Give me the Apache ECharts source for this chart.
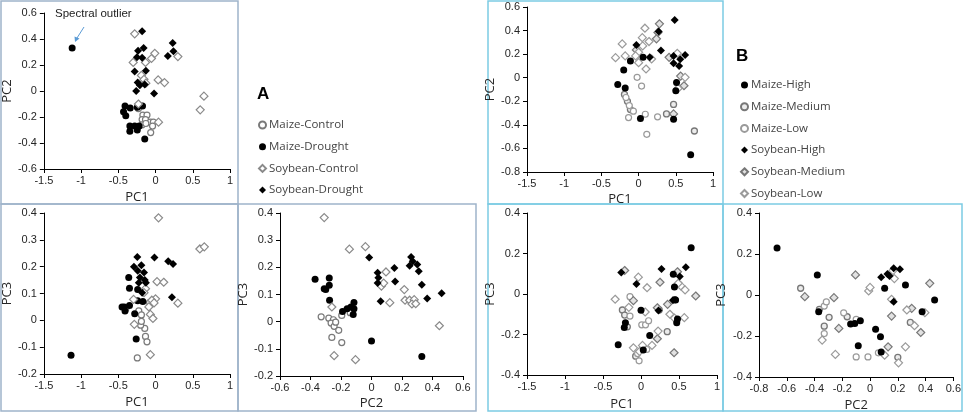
<!DOCTYPE html>
<html>
<head>
<meta charset="utf-8">
<script src="https://cdn.jsdelivr.net/npm/echarts@6/dist/echarts.min.js"></script>
<style>
  html, body { margin: 0; padding: 0; background: #fff; }
  #chart { width: 964px; height: 414px; }
</style>
</head>
<body>
<div id="chart"></div>
<script>
'use strict';

// ---- Panel A : PC1 vs PC2 ----
var aPc12MaizeControl = [[-0.23,-0.135],[-0.17,-0.185],[-0.115,-0.185],[-0.18,-0.22],[-0.135,-0.22],[-0.07,-0.24],[-0.03,-0.24],[-0.04,-0.27],[-0.065,-0.32],[-0.18,-0.26],[-0.13,-0.25]];
var aPc12MaizeDrought = [[-1.12,0.33],[-0.43,-0.16],[-0.41,-0.115],[-0.40,-0.19],[-0.34,-0.13],[-0.245,-0.125],[-0.175,-0.115],[-0.345,-0.27],[-0.345,-0.31],[-0.28,-0.27],[-0.245,-0.30],[-0.22,-0.27],[-0.145,-0.37]];
var aPc12SoyControl = [[-0.28,0.44],[-0.30,0.22],[-0.135,0.22],[-0.055,0.25],[-0.01,0.29],[0.30,0.265],[-0.19,0.12],[-0.155,0.09],[-0.13,0.06],[0.035,0.085],[0.12,0.065],[0.60,-0.145],[0.65,-0.04],[-0.23,-0.10],[0.04,-0.24]];
var aPc12SoyDrought = [[-0.18,0.46],[-0.235,0.31],[-0.16,0.33],[-0.25,0.26],[-0.18,0.255],[-0.28,0.15],[-0.13,0.155],[-0.24,0.065],[-0.21,0.045],[-0.145,0.05],[-0.26,0.0],[-0.02,-0.02],[0.23,0.37],[0.24,0.305],[0.165,0.27]];

// ---- Panel A : PC1 vs PC3 ----
var aPc13MaizeControl = [[-0.245,-0.14],[-0.135,-0.06],[-0.115,-0.08],[-0.145,-0.03],[-0.2,-0.018],[-0.19,-0.004],[-0.225,0.035],[-0.19,0.02],[-0.40,0.042],[-0.08,0.066]];
var aPc13MaizeDrought = [[-1.135,-0.13],[-0.36,0.16],[-0.35,0.12],[-0.45,0.05],[-0.42,0.05],[-0.41,0.035],[-0.35,0.055],[-0.28,0.025],[-0.26,-0.07],[-0.24,0.073],[-0.17,0.07],[-0.24,0.115]];
var aPc13SoyControl = [[0.04,0.382],[0.595,0.266],[0.655,0.274],[0.02,0.144],[0.11,0.142],[0.30,0.064],[0.0,0.08],[-0.05,0.075],[-0.02,0.065],[-0.295,0.078],[-0.09,0.05],[-0.07,0.022],[-0.035,0.007],[-0.135,0.118],[-0.155,0.103],[-0.285,-0.015],[-0.07,-0.128]];
var aPc13SoyDrought = [[-0.245,0.236],[-0.29,0.2],[-0.19,0.205],[-0.24,0.185],[-0.155,0.178],[-0.21,0.16],[-0.145,0.15],[-0.13,0.14],[-0.015,0.234],[0.17,0.22],[0.235,0.21],[0.22,0.086],[-0.225,0.14],[-0.18,0.103]];

// ---- Panel A : PC2 vs PC3 ----
var aPc23MaizeControl = [[-0.33,0.018],[-0.28,0.013],[-0.25,0.007],[-0.265,-0.005],[-0.245,-0.017],[-0.235,-0.002],[-0.215,-0.032],[-0.26,-0.058],[-0.195,-0.077],[-0.195,0.023],[-0.14,0.033]];
var aPc23MaizeDrought = [[-0.37,0.156],[-0.31,0.121],[-0.30,0.118],[-0.277,0.161],[-0.277,0.134],[-0.275,0.079],[-0.19,0.037],[-0.16,0.048],[-0.135,0.054],[-0.115,0.071],[-0.115,0.048],[-0.12,0.026],[0.0,-0.071],[0.33,-0.128]];
var aPc23SoyControl = [[-0.31,0.383],[-0.145,0.267],[-0.04,0.276],[0.095,0.183],[0.065,0.131],[0.08,0.142],[0.12,0.07],[0.215,0.118],[0.22,0.079],[0.25,0.079],[0.28,0.081],[0.265,0.065],[0.29,0.066],[0.445,-0.015],[-0.26,0.054],[-0.245,-0.125],[-0.105,-0.14]];
var aPc23SoyDrought = [[-0.015,0.236],[0.04,0.18],[0.045,0.162],[0.04,0.142],[0.06,0.075],[0.15,0.198],[0.155,0.148],[0.26,0.238],[0.27,0.222],[0.25,0.206],[0.30,0.21],[0.31,0.186],[0.33,0.136],[0.365,0.085],[0.46,0.105]];

// ---- Panel B : PC1 vs PC2 ----
var bPc12MaizeHigh = [[-0.28,-0.057],[-0.20,0.065],[-0.18,-0.088],[0.025,-0.347],[0.47,-0.352],[0.51,-0.04],[0.50,-0.11],[0.70,-0.653],[-0.11,0.142],[0.06,0.173]];
var bPc12MaizeMed = [[-0.19,-0.142],[-0.15,-0.2],[-0.11,-0.27],[0.375,-0.307],[0.75,-0.452],[0.47,-0.227]];
var bPc12MaizeLow = [[-0.17,-0.168],[-0.125,-0.236],[-0.07,-0.284],[-0.135,-0.338],[0.09,-0.31],[0.11,-0.48],[0.255,-0.332],[-0.02,0.003],[0.04,-0.071]];
var bPc12SoyHigh = [[0.485,0.489],[-0.03,0.278],[0.15,0.173],[0.27,0.392],[0.30,0.23],[0.47,0.185],[0.625,0.193],[0.47,0.122],[0.56,0.156],[0.545,0.1]];
var bPc12SoyMed = [[0.28,0.457],[0.26,0.384],[0.24,0.33],[-0.03,0.236],[0.61,-0.068],[0.565,0.014],[0.41,0.173],[0.47,-0.307]];
var bPc12SoyLow = [[0.085,0.42],[0.05,0.34],[-0.22,0.287],[-0.31,0.17],[-0.18,0.185],[0.0,0.216],[-0.04,0.185],[0.0,0.128],[0.055,0.27],[0.14,0.307],[0.175,0.159],[0.10,0.074],[0.52,0.207],[0.625,0.003],[0.53,-0.091]];

// ---- Panel B : PC1 vs PC3 ----
var bPc13MaizeHigh = [[0.66,0.228],[-0.3,-0.25],[-0.22,-0.165],[-0.205,-0.142],[0.0,-0.08],[0.115,-0.205],[0.03,-0.277],[0.425,0.097],[0.44,0.035],[0.445,-0.028],[0.48,-0.124],[0.47,-0.142],[0.455,-0.03]];
var bPc13MaizeMed = [[-0.245,-0.079],[-0.215,-0.104],[-0.18,-0.162],[0.24,-0.079],[0.345,-0.186],[-0.07,-0.307]];
var bPc13MaizeLow = [[-0.145,-0.013],[-0.145,-0.109],[0.01,-0.152],[0.06,-0.152],[0.1,-0.132],[-0.045,-0.294],[-0.025,-0.33],[0.075,-0.274]];
var bPc13SoyHigh = [[-0.26,0.106],[-0.06,0.05],[0.27,0.124],[0.51,0.087],[0.59,0.132],[0.23,-0.081],[0.42,-0.031]];
var bPc13SoyMed = [[-0.215,0.116],[0.25,0.058],[0.48,0.11],[0.72,-0.01],[0.35,-0.051],[0.215,-0.068],[0.215,-0.221],[0.435,-0.29],[-0.1,-0.033]];
var bPc13SoyLow = [[-0.035,0.083],[0.08,0.031],[0.525,0.04],[0.58,0.02],[0.49,0.053],[-0.34,-0.026],[-0.16,-0.066],[0.055,-0.089],[0.38,-0.1],[0.44,-0.119],[0.57,-0.117],[0.225,-0.183],[0.145,-0.254],[0.02,-0.254],[-0.1,-0.266],[-0.02,-0.284]];

// ---- Panel B : PC2 vs PC3 ----
var bPc23MaizeHigh = [[-0.67,0.229],[-0.38,0.098],[-0.37,-0.082],[-0.14,-0.142],[-0.11,-0.139],[-0.07,-0.126],[0.04,-0.167],[-0.085,-0.248],[0.075,-0.204],[0.08,-0.278],[0.375,-0.082],[0.465,-0.024],[0.255,0.049],[0.105,0.033]];
var bPc23MaizeMed = [[-0.5,0.033],[-0.365,-0.07],[-0.295,-0.109],[-0.33,-0.152],[-0.165,-0.106],[0.2,-0.304],[0.29,-0.134]];
var bPc23MaizeLow = [[-0.33,-0.054],[-0.315,-0.034],[-0.33,-0.188],[-0.19,-0.087],[-0.1,-0.119],[-0.1,-0.302],[-0.015,-0.302],[0.06,-0.282]];
var bPc23SoyHigh = [[0.08,0.087],[0.125,0.103],[0.14,0.093],[0.17,0.131],[0.215,0.126],[0.17,-0.033]];
var bPc23SoyMed = [[-0.47,-0.008],[-0.26,-0.013],[-0.225,-0.163],[-0.105,0.098],[0.13,-0.253],[0.155,-0.103],[0.3,-0.065],[0.365,-0.183],[0.43,0.057]];
var bPc23SoyLow = [[-0.345,-0.22],[-0.25,-0.29],[-0.01,0.02],[0.0,0.037],[0.105,-0.294],[0.205,-0.331],[0.255,-0.253],[0.155,-0.021],[0.165,0.119],[0.175,0.08],[0.265,-0.073],[0.32,-0.15],[0.395,-0.086]];

var TEXT = '#262626';
var FRAME_A = '#9fb4ca';
var FRAME_B = '#7ccbe3';

// marker looks
var looks = {
  'Maize-Control':   { symbol: 'circle',  size: 6, color: '#fff',    border: '#7a7a7a', bw: 1.2 },
  'Maize-Drought':   { symbol: 'circle',  size: 7, color: '#000',    border: '#000',    bw: 0 },
  'Soybean-Control': { symbol: 'diamond', size: 8, color: '#fff',    border: '#8a8a8a', bw: 1.2 },
  'Soybean-Drought': { symbol: 'diamond', size: 8, color: '#000',    border: '#000',    bw: 0 },
  'Maize-High':      { symbol: 'circle',  size: 7, color: '#000',    border: '#000',    bw: 0 },
  'Maize-Medium':    { symbol: 'circle',  size: 6, color: '#ececec', border: '#777',    bw: 1.3 },
  'Maize-Low':       { symbol: 'circle',  size: 6, color: '#fff',    border: '#9a9a9a', bw: 1.2 },
  'Soybean-High':    { symbol: 'diamond', size: 8, color: '#000',    border: '#000',    bw: 0 },
  'Soybean-Medium':  { symbol: 'diamond', size: 8, color: '#e2e2e2', border: '#777',    bw: 1.2 },
  'Soybean-Low':     { symbol: 'diamond', size: 8, color: '#fff',    border: '#9a9a9a', bw: 1.2 }
};

var grids = [], xAxes = [], yAxes = [], series = [];

function axis(name, min, max, step, gap, vertical) {
  return {
    type: 'value', min: min, max: max, interval: step,
    name: name, nameLocation: 'middle', nameGap: gap,
    nameTextStyle: { color: TEXT, fontSize: 13, fontFamily: 'Open Sans' },
    axisLine: { onZero: false, lineStyle: { color: '#000', width: 1 } },
    axisTick: { show: true, length: 4, lineStyle: { color: '#000' } },
    axisLabel: { color: TEXT, fontSize: 11, fontFamily: 'Liberation Sans', margin: vertical ? 7 : 6 },
    splitLine: { show: false }
  };
}

function panel(box, xa, ya, sets) {
  var idx = grids.length;
  grids.push({ left: box[0], top: box[1], width: box[2], height: box[3] });
  xAxes.push(Object.assign(axis(xa[0], xa[1], xa[2], xa[3], xa[4], false), { gridIndex: idx }));
  yAxes.push(Object.assign(axis(ya[0], ya[1], ya[2], ya[3], ya[4], true), { gridIndex: idx }));
  sets.forEach(function (s) {
    var lk = looks[s[0]];
    series.push({
      type: 'scatter', name: s[0], xAxisIndex: idx, yAxisIndex: idx,
      symbol: lk.symbol, symbolSize: lk.size,
      itemStyle: { color: lk.color, borderColor: lk.border, borderWidth: lk.bw, opacity: 1 },
      emphasis: { disabled: true },
      data: s[1]
    });
  });
}

// Panel A
panel([40, 13, 190, 156], ['PC1', -1.5, 1, 0.5, 22], ['PC2', -0.6, 0.6, 0.2, 28], [
  ['Maize-Control', aPc12MaizeControl], ['Maize-Drought', aPc12MaizeDrought],
  ['Soybean-Control', aPc12SoyControl], ['Soybean-Drought', aPc12SoyDrought]]);
panel([41, 213, 189, 161], ['PC1', -1.5, 1, 0.5, 22], ['PC3', -0.2, 0.4, 0.1, 28], [
  ['Maize-Control', aPc13MaizeControl], ['Maize-Drought', aPc13MaizeDrought],
  ['Soybean-Control', aPc13SoyControl], ['Soybean-Drought', aPc13SoyDrought]]);
panel([280, 213, 183, 163], ['PC2', -0.6, 0.6, 0.2, 21], ['PC3', -0.2, 0.4, 0.1, 28], [
  ['Maize-Control', aPc23MaizeControl], ['Maize-Drought', aPc23MaizeDrought],
  ['Soybean-Control', aPc23SoyControl], ['Soybean-Drought', aPc23SoyDrought]]);

// Panel B
panel([527, 7, 186, 165], ['PC1', -1.5, 1, 0.5, 21], ['PC2', -0.8, 0.6, 0.2, 30], [
  ['Maize-Medium', bPc12MaizeMed], ['Maize-Low', bPc12MaizeLow],
  ['Soybean-Medium', bPc12SoyMed], ['Soybean-Low', bPc12SoyLow],
  ['Maize-High', bPc12MaizeHigh], ['Soybean-High', bPc12SoyHigh]]);
panel([527, 213, 190, 162], ['PC1', -1.5, 1, 0.5, 23], ['PC3', -0.4, 0.4, 0.2, 30], [
  ['Maize-Medium', bPc13MaizeMed], ['Maize-Low', bPc13MaizeLow],
  ['Soybean-Medium', bPc13SoyMed], ['Soybean-Low', bPc13SoyLow],
  ['Maize-High', bPc13MaizeHigh], ['Soybean-High', bPc13SoyHigh]]);
panel([759, 213, 196, 164], ['PC2', -0.8, 0.6, 0.2, 22], ['PC3', -0.4, 0.4, 0.2, 31], [
  ['Maize-Medium', bPc23MaizeMed], ['Maize-Low', bPc23MaizeLow],
  ['Soybean-Medium', bPc23SoyMed], ['Soybean-Low', bPc23SoyLow],
  ['Maize-High', bPc23MaizeHigh], ['Soybean-High', bPc23SoyHigh]]);

function legendAt(left, top, names) {
  return {
    orient: 'vertical', left: left, top: top, itemGap: 9.7,
    itemWidth: 7, itemHeight: 7, selectedMode: false,
    textStyle: { color: '#444', fontSize: 11.5, fontFamily: 'Open Sans', padding: [0, 0, 0, -2] },
    data: names
  };
}

function frame(x, y, w, h, c) {
  return { type: 'rect', shape: { x: x, y: y, width: w, height: h }, silent: true, z: -1,
           style: { fill: null, stroke: c, lineWidth: 1.5 } };
}

var chart = echarts.init(document.getElementById('chart'), null, { renderer: 'canvas' });
chart.setOption({
  animation: false,
  backgroundColor: '#fff',
  grid: grids,
  xAxis: xAxes,
  yAxis: yAxes,
  legend: [
    legendAt(253, 114, ['Maize-Control', 'Maize-Drought', 'Soybean-Control', 'Soybean-Drought']),
    legendAt(735, 74, ['Maize-High', 'Maize-Medium', 'Maize-Low', 'Soybean-High', 'Soybean-Medium', 'Soybean-Low'])
  ],
  graphic: [
    frame(1, 1, 237, 203, FRAME_A),
    frame(1, 204, 237, 207, FRAME_A),
    frame(238, 204, 238, 207, FRAME_A),
    frame(488, 1, 235, 203, FRAME_B),
    frame(488, 204, 235, 207, FRAME_B),
    frame(723, 204, 239, 207, FRAME_B),
    { type: 'text', left: 257, top: 86, style: { text: 'A', fill: '#000', font: 'bold 17px Liberation Sans' } },
    { type: 'text', left: 736, top: 48, style: { text: 'B', fill: '#000', font: 'bold 17px Liberation Sans' } },
    { type: 'text', left: 55, top: 8, style: { text: 'Spectral outlier', fill: '#222', font: '11.5px Liberation Sans' } },
    { type: 'line', shape: { x1: 84, y1: 27, x2: 77, y2: 38 }, style: { stroke: '#5b9bd5', lineWidth: 1 } },
    { type: 'polygon', shape: { points: [[75, 42], [74.5, 36.5], [79.5, 38.5]] }, style: { fill: '#5b9bd5' } }
  ],
  series: series
});
</script>
</body>
</html>
